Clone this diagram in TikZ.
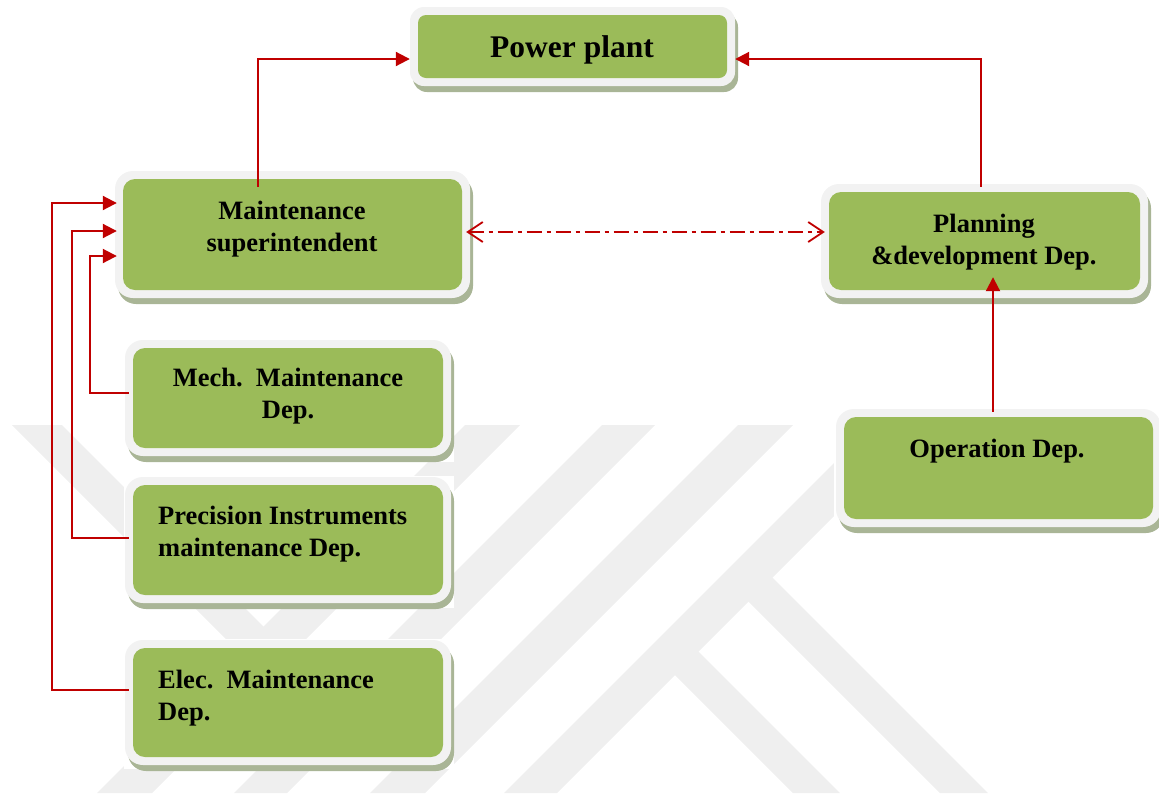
\documentclass[tikz,border=0pt]{standalone}
\usepackage{fontspec}
\setmainfont{Liberation Serif}
\usetikzlibrary{arrows.meta}

\definecolor{boxgreen}{HTML}{9BBB59}
\definecolor{boxframe}{HTML}{F2F2F2}
\definecolor{boxshade}{HTML}{A9B596}
\definecolor{linkred}{HTML}{C00000}
\definecolor{markgray}{HTML}{EFEFEF}

\tikzset{
  greenbox/.style={fill=boxgreen, draw=none, inner sep=0pt},
  boxtext/.style={font=\bfseries\fontsize{26.5}{31.5}\selectfont, inner sep=0pt, text=black},
  conn/.style={draw=linkred, line width=2pt, -{Triangle[length=14pt,width=14pt]}},
  twoway/.style={draw=linkred, line width=1.8pt,
    dash pattern=on 15pt off 5pt on 4pt off 5pt,
    {Straight Barb[length=15pt,width=20pt]}-{Straight Barb[length=15pt,width=20pt]}},
  band/.style={fill=markgray, draw=none},
  blank/.style={fill=white, draw=none},
}

% #1 name, #2..#5 green area (x1,y1,x2,y2), #6 inner radius, #7 frame radius
\newcommand\orgbox[7]{%
  \fill[boxshade, rounded corners=#7] (#2-5,#3-2) rectangle (#4+11,#5+14);
  \fill[boxframe, rounded corners=#7] (#2-8,#3-8) rectangle (#4+8,#5+8);
  \node[greenbox, rounded corners=#6, minimum width={#4-#2}, minimum height={#5-#3}]
    (#1) at ({(#2+#4)/2},{(#3+#5)/2}) {};
}

\begin{document}
\begin{tikzpicture}[x=1pt, y=-1pt]
\useasboundingbox (0,0) rectangle (1159,793);
\clip (0,0) rectangle (1159,793);

% background emblem
\fill[band] (12,425) -- (62,425) -- (337,700) -- (287,700) -- cycle;
\fill[band] (465,425) -- (520,425) -- (152,793) -- (97,793) -- cycle;
\fill[band] (602,425) -- (655,425) -- (287,793) -- (234,793) -- cycle;
\fill[band] (738,425) -- (793,425) -- (425,793) -- (370,793) -- cycle;
\fill[band] (872,425) -- (925,425) -- (557,793) -- (504,793) -- cycle;
\fill[band] (735,588) -- (760,565) -- (988,793) -- (940,793) -- cycle;
\fill[band] (688,641) -- (840,793) -- (793,793) -- (663,663) -- cycle;

% white cards under the lower boxes
\fill[blank] (124,340) rectangle (454,462);
\fill[blank] (124,476) rectangle (454,608);
\fill[blank] (124,639) rectangle (454,769);
\fill[blank] (834,405) rectangle (1159,535);

% boxes
\orgbox{pp}{418}{15}{727}{78}{8pt}{14pt}
\orgbox{ms}{123}{179}{462}{290}{12pt}{18pt}
\orgbox{pd}{829}{192}{1140}{290}{12pt}{18pt}
\orgbox{mech}{133}{348}{443}{448}{12pt}{18pt}
\orgbox{prec}{133}{485}{443}{595}{12pt}{18pt}
\orgbox{elec}{133}{648}{443}{757}{12pt}{18pt}
\orgbox{op}{844}{417}{1153}{519}{12pt}{18pt}

% labels
\node[boxtext, font=\bfseries\fontsize{31.5}{36}\selectfont, anchor=base] (pp-t) at (572,57) {Power plant};
\node[boxtext, align=center, anchor=north] (ms-t) at (292,201) {Maintenance\\superintendent};
\node[boxtext, align=center, anchor=north] (pd-t) at (984,214) {Planning\\\&development Dep.};
\node[boxtext, align=center, anchor=north] (mech-t) at (288,368) {Mech.\ \ Maintenance\\Dep.};
\node[boxtext, align=left, anchor=north west] (prec-t) at (158,506) {Precision Instruments\\maintenance Dep.};
\node[boxtext, align=left, anchor=north west] (elec-t) at (158,670) {Elec.\ \ Maintenance\\Dep.};
\node[boxtext, anchor=base] (op-t) at (997,457) {Operation Dep.};

% connector end points
\coordinate (ppL) at ([xshift=-8pt]pp.west);
\coordinate (ppR) at ([xshift=8pt]pp.east);
\coordinate (msT) at ([yshift=-8pt]ms.north);
\coordinate (msL) at ([xshift=-6pt]ms.west);
\coordinate (msR) at ([xshift=4pt]ms.east);
\coordinate (pdT) at ([yshift=5pt]pd.north);
\coordinate (pdL) at ([xshift=-4pt]pd.west);
\coordinate (pdB) at ([yshift=13pt]pd.south);
\coordinate (opT) at ([yshift=5pt]op.north);
\coordinate (mechL) at ([xshift=-4pt]mech.west);
\coordinate (precL) at ([xshift=-4pt]prec.west);
\coordinate (elecL) at ([xshift=-4pt]elec.west);

% connectors
\draw[conn] (msT -| 258,0) |- (ppL |- 0,59);
\draw[conn] (pdT -| 981,0) |- (ppR |- 0,59);
\draw[conn] (opT -| 993,0) -- (pdB -| 993,0);
\draw[twoway] (msR |- 0,232) -- (pdL |- 0,232);
\draw[conn] (mechL |- 0,393) -| (90,256) -- (msL |- 0,256);
\draw[conn] (precL |- 0,538) -| (72,231) -- (msL |- 0,231);
\draw[conn] (elecL |- 0,690) -| (52,203) -- (msL |- 0,203);
\end{tikzpicture}
\end{document}
